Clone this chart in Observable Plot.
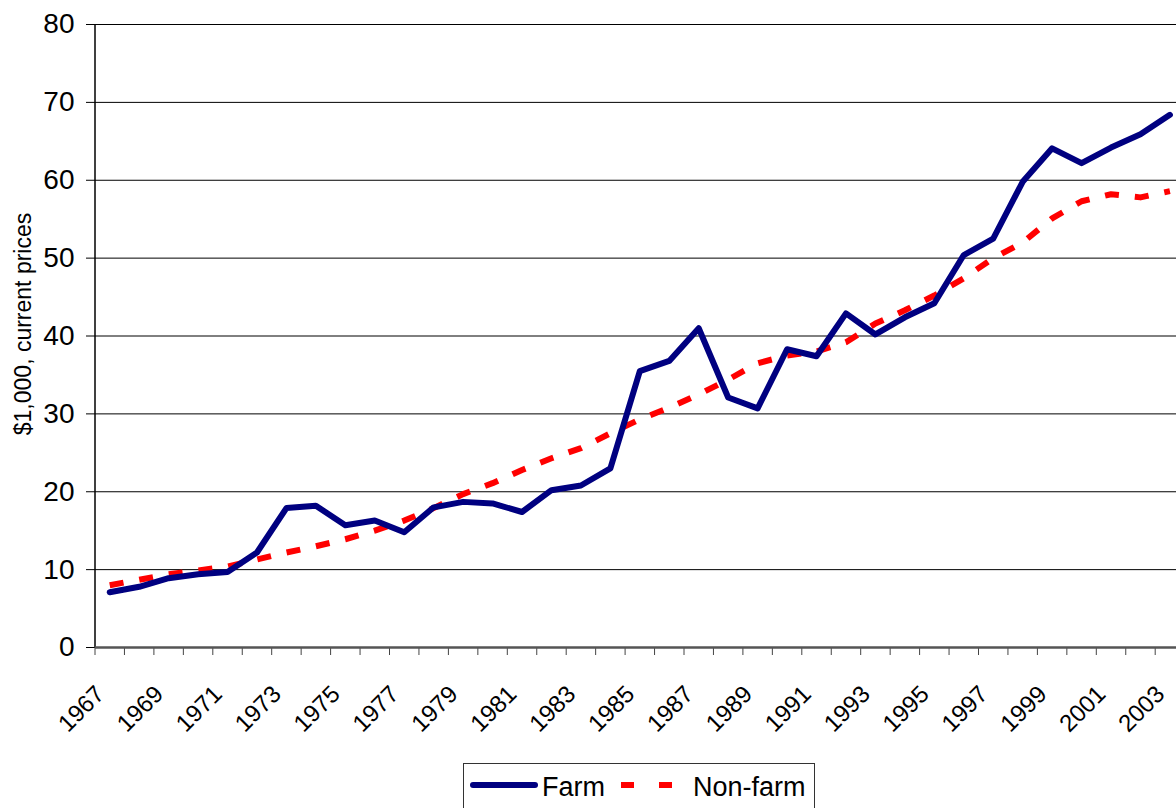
<!DOCTYPE html>
<html>
<head>
<meta charset="utf-8">
<script src="https://cdn.jsdelivr.net/npm/d3@7"></script>
<script src="https://cdn.jsdelivr.net/npm/@observablehq/plot@0.6"></script>
<style>
  html, body { margin: 0; padding: 0; background: #fff; overflow: hidden; }
  body { width: 1176px; height: 808px; font-family: "Liberation Sans", Arial, sans-serif; }
  #chart svg { display: block; }
  #legend { position: relative; margin-left: 463px; margin-top: 3px; width: 352px; height: 52px;
            border: 1px solid #333; box-sizing: border-box; font-size: 27px; line-height: 27px; color: #000; }
  #legend span { position: absolute; top: 10px; white-space: nowrap; }
  #legend svg { position: absolute; top: 0; left: 0; }
</style>
</head>
<body>
<div id="chart"></div>
<div id="legend">
  <svg width="350" height="40">
    <line x1="9" y1="21" x2="71" y2="21" stroke="#000080" stroke-width="6" stroke-linecap="round"></line>
    <line x1="157" y1="21" x2="209" y2="21" stroke="#FF0000" stroke-width="6" stroke-dasharray="13,25"></line>
  </svg>
  <span style="left:78px">Farm</span>
  <span style="left:229px">Non-farm</span>
</div>
<script>
const years = d3.range(1967, 2004);
const farm = [7.1, 7.8, 8.9, 9.4, 9.7, 12.2, 17.9, 18.2, 15.7, 16.3, 14.8, 18.0, 18.7, 18.5, 17.4, 20.2, 20.8, 23.0,
              35.5, 36.8, 41.0, 32.1, 30.7, 38.3, 37.4, 42.9, 40.2, 42.4, 44.2, 50.4, 52.5, 59.8, 64.1, 62.2, 64.2, 65.9, 68.4];
const nonFarm = [8.0, 8.7, 9.4, 9.9, 10.4, 11.3, 12.2, 13.0, 13.9, 15.0, 16.3, 17.9, 19.7, 21.1, 22.8, 24.3, 25.6, 27.5,
                 29.3, 30.8, 32.5, 34.4, 36.5, 37.5, 38.0, 39.2, 41.6, 43.3, 45.2, 47.4, 50.0, 52.0, 55.1, 57.3, 58.2, 57.8, 58.6];
const yTicks = [0, 10, 20, 30, 40, 50, 60, 70, 80];
const labelYears = years.filter((y, i) => i % 2 === 0);
const yLabel = ["$1,000, current prices"];

const data = years.map((year, i) => ({year, farm: farm[i], nonFarm: nonFarm[i]}));
const boundaries = d3.range(1966.5, 2004, 1);
const font = "Liberation Sans, Arial, sans-serif";

const chart = Plot.plot({
  width: 1176,
  height: 760,
  marginLeft: 95,
  marginRight: 0,
  marginTop: 24,
  marginBottom: 113,
  style: {fontFamily: font, background: "#fff", color: "#000"},
  x: {type: "linear", domain: [1966.5, 2003.5], range: [94.5, 94.5 + 37 * 29.45]},
  y: {domain: [0, 80]},
  marks: [
    Plot.ruleY(yTicks.filter(v => v > 0), {stroke: "#000", strokeWidth: 1}),
    Plot.axisY({ticks: yTicks, tickSize: 9, tickPadding: 12, fontSize: 28, stroke: "#000", strokeOpacity: 1, label: null}),
    Plot.ruleX([1966.5], {y1: 0, y2: 80, stroke: "#000", strokeWidth: 1.5}),
    Plot.axisX({ticks: boundaries, tickSize: 8, tickFormat: () => "", stroke: "#444", strokeOpacity: 1, label: null}),
    Plot.ruleY([0], {stroke: "#555", strokeWidth: 2.5}),
    Plot.text(labelYears, {x: d => d, text: d => String(d), frameAnchor: "bottom", dx: -4, dy: 48, rotate: -45,
                           textAnchor: "end", lineAnchor: "bottom", fontSize: 24, fill: "#000"}),
    Plot.text(yLabel, {text: d => d, frameAnchor: "left", dx: -72, dy: -12, rotate: -90,
                       textAnchor: "middle", lineAnchor: "middle", fontSize: 23, fill: "#000"}),
    Plot.line(data, {x: "year", y: "nonFarm", stroke: "#FF0000", strokeWidth: 6, strokeDasharray: "14,16", strokeLinecap: "butt"}),
    Plot.line(data, {x: "year", y: "farm", stroke: "#000080", strokeWidth: 6, strokeLinecap: "round", strokeLinejoin: "round"})
  ]
});
document.getElementById("chart").appendChild(chart);
</script>
</body>
</html>
